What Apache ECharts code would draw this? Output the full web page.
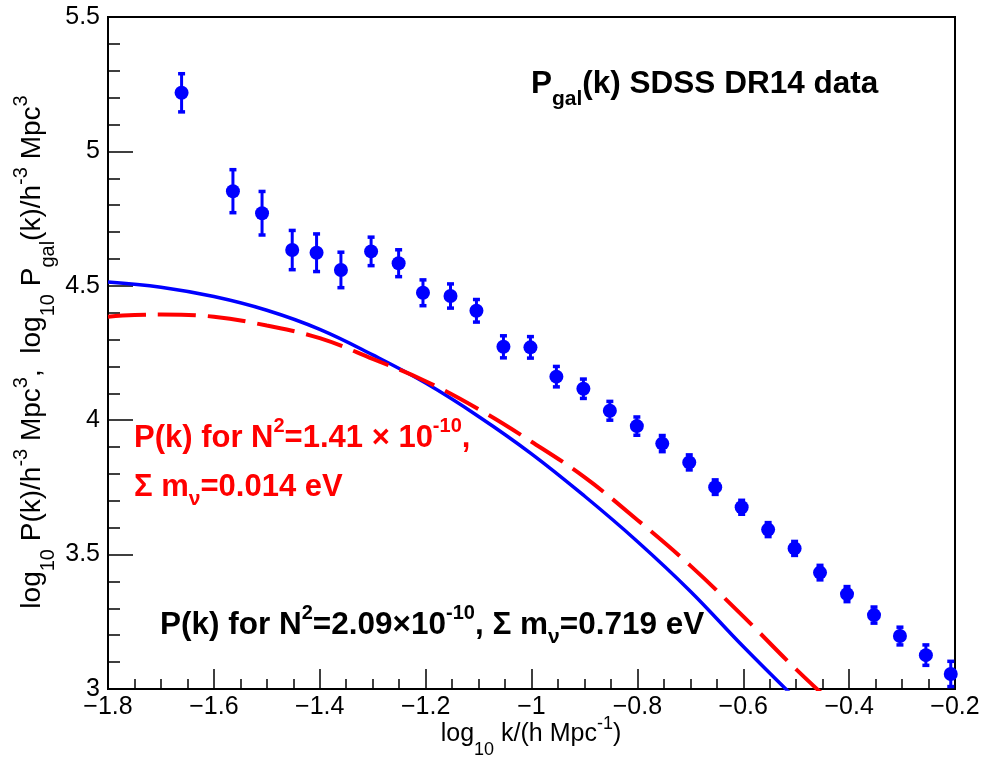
<!DOCTYPE html>
<html>
<head>
<meta charset="utf-8">
<script src="https://cdn.jsdelivr.net/npm/echarts@6/dist/echarts.min.js"></script>
<style>
  html, body { margin: 0; padding: 0; background: #fff; }
  #chart { width: 983px; height: 757px; }
</style>
</head>
<body>
<div id="chart"></div>
<script>
// Galaxy power spectrum measurements: log10 k, log10 P_gal and 1-sigma errors
const logK = [-1.661, -1.564, -1.509, -1.452, -1.406, -1.360, -1.303, -1.251, -1.205, -1.153,
              -1.104, -1.053, -1.002, -0.953, -0.902, -0.852, -0.801, -0.753, -0.702, -0.653,
              -0.603, -0.553, -0.503, -0.455, -0.404, -0.353, -0.304, -0.255, -0.208];
const logPgal = [5.218, 4.852, 4.770, 4.633, 4.623, 4.559, 4.628, 4.584, 4.474, 4.462,
                 4.407, 4.273, 4.271, 4.162, 4.117, 4.035, 3.978, 3.913, 3.843, 3.751,
                 3.676, 3.593, 3.523, 3.433, 3.353, 3.275, 3.197, 3.126, 3.056];
const errPgal = [0.071, 0.080, 0.081, 0.073, 0.070, 0.066, 0.053, 0.050, 0.048, 0.045,
                 0.042, 0.041, 0.040, 0.038, 0.036, 0.035, 0.034, 0.030, 0.028, 0.027,
                 0.026, 0.026, 0.026, 0.027, 0.028, 0.030, 0.033, 0.038, 0.047];

// Model P(k), N^2 = 2.09e-10, sum m_nu = 0.719 eV (solid blue)
const blueX = [-1.8, -1.7, -1.6, -1.5, -1.4, -1.3, -1.2, -1.1, -1.0, -0.9, -0.8, -0.7, -0.6, -0.5];
const blueY = [4.514, 4.495, 4.460, 4.409, 4.338, 4.243, 4.138, 4.014, 3.875, 3.718, 3.549, 3.364, 3.158, 2.962];

// Model P(k), N^2 = 1.41e-10, sum m_nu = 0.014 eV (dashed red)
const redX = [-1.8, -1.75, -1.7, -1.6, -1.5, -1.4, -1.3, -1.2, -1.1, -1.0, -0.9, -0.8, -0.7, -0.6, -0.5, -0.4];
const redY = [4.385, 4.391, 4.393, 4.385, 4.352, 4.305, 4.228, 4.145, 4.041, 3.920, 3.788, 3.629, 3.459, 3.270, 3.073, 2.890];

// Axis ranges
const xRange = [-1.8, -0.2], xStep = 0.2;
const yRange = [3, 5.5], yStep = 0.5;

const FONT = '"Liberation Sans", Arial, Helvetica, sans-serif';
const BLUE = '#0000ff', RED = '#ff0000', BLACK = '#000000';

function zip(a, b) { return a.map((v, i) => [v, b[i]]); }

// rich-text styles for normal text, subscripts and superscripts
function richSet(size, bold, color, subSize, subShift, supSize, supShift) {
  const w = bold ? 'bold' : 'normal';
  return {
    m: { fontSize: size, fontWeight: w, fontFamily: FONT, fill: color, color: color },
    s: { fontSize: subSize, fontWeight: w, fontFamily: FONT, fill: color, color: color,
         padding: [subShift * 2, 0, 0, 0] },
    u: { fontSize: supSize, fontWeight: w, fontFamily: FONT, fill: color, color: color,
         padding: [0, 0, supShift * 2, 0] }
  };
}

const chart = echarts.init(document.getElementById('chart'), null, { renderer: 'canvas' });

const option = {
  animation: false,
  backgroundColor: '#ffffff',
  grid: {
    left: 108, right: 28, top: 17, bottom: 68,
    containLabel: false, outerBoundsMode: 'none',
    show: true, borderColor: BLACK, borderWidth: 2, backgroundColor: 'transparent'
  },
  xAxis: {
    type: 'value', min: xRange[0], max: xRange[1], interval: xStep,
    axisLine: { show: true, onZero: false, lineStyle: { color: BLACK, width: 2 } },
    axisTick: { show: true, inside: true, length: 20, lineStyle: { color: BLACK, width: 1.5 } },
    minorTick: { show: true, splitNumber: 4, length: 10, lineStyle: { color: BLACK, width: 1.5 } },
    splitLine: { show: false },
    axisLabel: {
      color: BLACK, fontSize: 25, fontFamily: FONT, margin: 6,
      showMinLabel: true, showMaxLabel: true,
      formatter: v => String(+v.toFixed(1)).replace('-', '\u2212')
    }
  },
  yAxis: {
    type: 'value', min: yRange[0], max: yRange[1], interval: yStep,
    axisLine: { show: true, onZero: false, lineStyle: { color: BLACK, width: 2 } },
    axisTick: { show: true, inside: true, length: 25, lineStyle: { color: BLACK, width: 1.5 } },
    minorTick: { show: true, splitNumber: 5, length: 12, lineStyle: { color: BLACK, width: 1.5 } },
    splitLine: { show: false },
    axisLabel: {
      color: BLACK, fontSize: 25, fontFamily: FONT, margin: 8,
      showMinLabel: true, showMaxLabel: true,
      formatter: v => String(+v.toFixed(1))
    }
  },
  series: [
    {
      name: 'N2=2.09e-10', type: 'line', data: zip(blueX, blueY),
      smooth: 0.4, symbol: 'none', clip: true,
      lineStyle: { color: BLUE, width: 3.5 }, z: 2
    },
    {
      name: 'N2=1.41e-10', type: 'line', data: zip(redX, redY),
      smooth: 0.4, symbol: 'none', clip: true,
      lineStyle: { color: RED, width: 4, type: [38, 12] }, z: 2
    },
    {
      name: 'errors', type: 'custom', clip: true, z: 3,
      data: logK.map((x, i) => [x, logPgal[i], errPgal[i]]),
      encode: { x: 0, y: 1 },
      renderItem: function (params, api) {
        const x = api.value(0), y = api.value(1), e = api.value(2);
        const top = api.coord([x, y + e]);
        const bot = api.coord([x, y - e]);
        const barW = 3, capW = 7, capH = 3.5;
        const st = { fill: BLUE, opacity: 1 };
        return {
          type: 'group',
          children: [
            { type: 'rect', shape: { x: top[0] - barW / 2, y: top[1], width: barW, height: bot[1] - top[1] }, style: st },
            { type: 'rect', shape: { x: top[0] - capW / 2, y: top[1] - capH / 2, width: capW, height: capH }, style: st },
            { type: 'rect', shape: { x: bot[0] - capW / 2, y: bot[1] - capH / 2, width: capW, height: capH }, style: st }
          ]
        };
      }
    },
    {
      name: 'SDSS DR14', type: 'scatter', data: zip(logK, logPgal),
      symbol: 'circle', symbolSize: 14, itemStyle: { color: BLUE, opacity: 1 }, z: 4
    }
  ],
  graphic: [
    { // plot title
      type: 'text', x: 531, y: 84, z: 10,
      style: {
        text: '{m|P}{s|gal}{m|(k) SDSS DR14 data}',
        rich: richSet(31.5, true, BLACK, 21, 15, 19, 12),
        align: 'left', verticalAlign: 'middle'
      }
    },
    { // red model label, first line
      type: 'text', x: 134, y: 438, z: 10,
      style: {
        text: '{m|P(k) for N}{u|2}{m|=1.41 \u00d7 10}{u|-10}{m|,}',
        rich: richSet(31, true, RED, 21, 14, 20, 12),
        align: 'left', verticalAlign: 'middle'
      }
    },
    { // red model label, second line
      type: 'text', x: 134, y: 487, z: 10,
      style: {
        text: '{m|\u03a3 m}{s|\u03bd}{m|=0.014 eV}',
        rich: richSet(31, true, RED, 21, 12, 20, 12),
        align: 'left', verticalAlign: 'middle'
      }
    },
    { // blue model label
      type: 'text', x: 160, y: 625, z: 10,
      style: {
        text: '{m|P(k) for N}{u|2}{m|=2.09\u00d710}{u|-10}{m|, \u03a3 m}{s|\u03bd}{m|=0.719 eV}',
        rich: richSet(31.5, true, BLACK, 21, 12, 20, 12),
        align: 'left', verticalAlign: 'middle'
      }
    },
    { // x-axis title
      type: 'text', x: 531, y: 734, z: 10,
      style: {
        text: '{m|log}{s|10}{m| k/(h Mpc}{u|-1}{m|)}',
        rich: richSet(25, false, BLACK, 18, 16, 18, 10),
        align: 'center', verticalAlign: 'middle'
      }
    },
    { // y-axis title
      type: 'text', x: 32, y: 352, rotation: Math.PI / 2, z: 10,
      style: {
        text: '{m|log}{s|10}{m| P(k)/h}{u|-3}{m| Mpc}{u|3}{m|,  log}{s|10}{m| P}{s|gal}{m|(k)/h}{u|-3}{m| Mpc}{u|3}',
        rich: richSet(28, false, BLACK, 20, 16, 20, 11),
        align: 'center', verticalAlign: 'middle'
      }
    }
  ]
};

chart.setOption(option);
</script>
</body>
</html>
